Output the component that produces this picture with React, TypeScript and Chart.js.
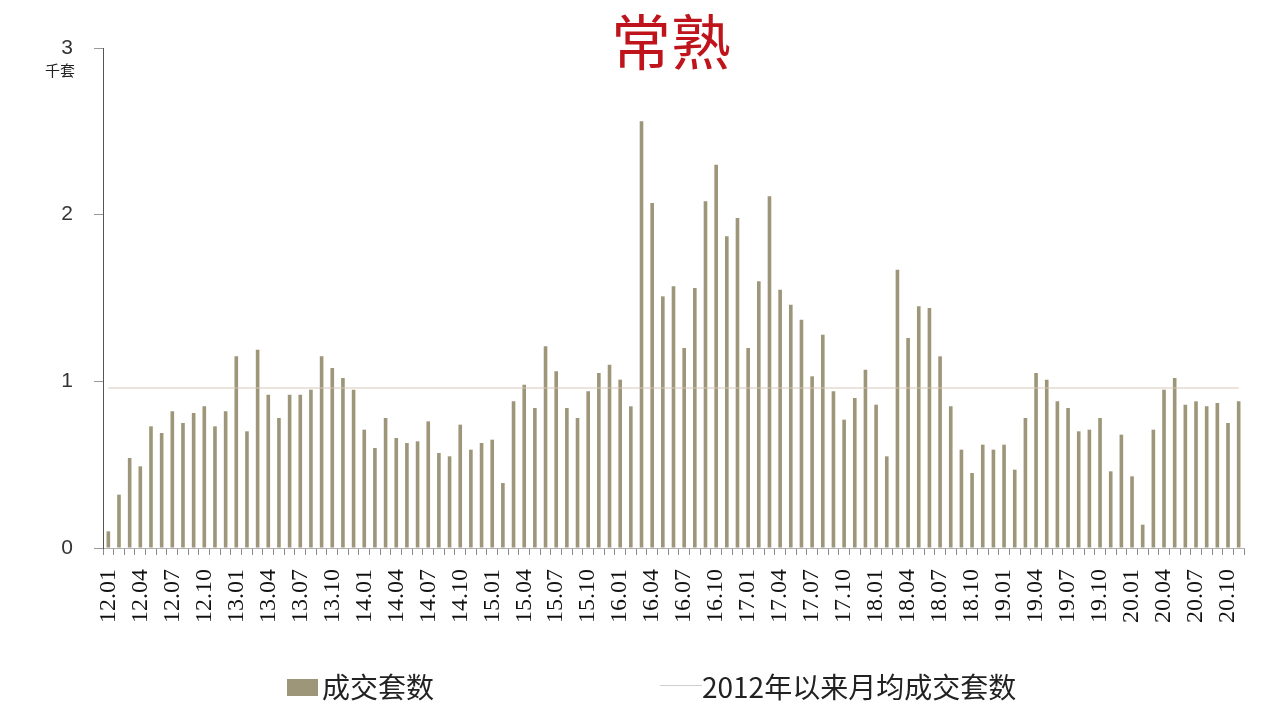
import React, { useEffect, useRef } from "react";
import { Chart, registerables } from "chart.js";

Chart.register(...registerables);

const categories = [
  "12.01", "12.02", "12.03", "12.04", "12.05", "12.06", "12.07", "12.08", "12.09", "12.10", "12.11", "12.12",
  "13.01", "13.02", "13.03", "13.04", "13.05", "13.06", "13.07", "13.08", "13.09", "13.10", "13.11", "13.12",
  "14.01", "14.02", "14.03", "14.04", "14.05", "14.06", "14.07", "14.08", "14.09", "14.10", "14.11", "14.12",
  "15.01", "15.02", "15.03", "15.04", "15.05", "15.06", "15.07", "15.08", "15.09", "15.10", "15.11", "15.12",
  "16.01", "16.02", "16.03", "16.04", "16.05", "16.06", "16.07", "16.08", "16.09", "16.10", "16.11", "16.12",
  "17.01", "17.02", "17.03", "17.04", "17.05", "17.06", "17.07", "17.08", "17.09", "17.10", "17.11", "17.12",
  "18.01", "18.02", "18.03", "18.04", "18.05", "18.06", "18.07", "18.08", "18.09", "18.10", "18.11", "18.12",
  "19.01", "19.02", "19.03", "19.04", "19.05", "19.06", "19.07", "19.08", "19.09", "19.10", "19.11", "19.12",
  "20.01", "20.02", "20.03", "20.04", "20.05", "20.06", "20.07", "20.08", "20.09", "20.10", "20.11",
];

// 成交套数 (千套), by year
const sales2012 = [0.10, 0.32, 0.54, 0.49, 0.73, 0.69, 0.82, 0.75, 0.81, 0.85, 0.73, 0.82];
const sales2013 = [1.15, 0.70, 1.19, 0.92, 0.78, 0.92, 0.92, 0.95, 1.15, 1.08, 1.02, 0.95];
const sales2014 = [0.71, 0.60, 0.78, 0.66, 0.63, 0.64, 0.76, 0.57, 0.55, 0.74, 0.59, 0.63];
const sales2015 = [0.65, 0.39, 0.88, 0.98, 0.84, 1.21, 1.06, 0.84, 0.78, 0.94, 1.05, 1.10];
const sales2016 = [1.01, 0.85, 2.56, 2.07, 1.51, 1.57, 1.20, 1.56, 2.08, 2.30, 1.87, 1.98];
const sales2017 = [1.20, 1.60, 2.11, 1.55, 1.46, 1.37, 1.03, 1.28, 0.94, 0.77, 0.90, 1.07];
const sales2018 = [0.86, 0.55, 1.67, 1.26, 1.45, 1.44, 1.15, 0.85, 0.59, 0.45, 0.62, 0.59];
const sales2019 = [0.62, 0.47, 0.78, 1.05, 1.01, 0.88, 0.84, 0.70, 0.71, 0.78, 0.46, 0.68];
const sales2020 = [0.43, 0.14, 0.71, 0.95, 1.02, 0.86, 0.88, 0.85, 0.87, 0.75, 0.88];

// 2012年以来月均成交套数 (千套)
const monthlyAverage = 0.96;

const yTicks = [0, 1, 2, 3];

const sales = [
  ...sales2012, ...sales2013, ...sales2014, ...sales2015, ...sales2016,
  ...sales2017, ...sales2018, ...sales2019, ...sales2020,
];
const averageLine = categories.map(() => monthlyAverage);

const BAR_COLOR = "#9d9679";
const AVG_COLOR = "#d8c6b8";

export default function App() {
  const canvasRef = useRef<HTMLCanvasElement>(null);

  useEffect(() => {
    const chart = new Chart(canvasRef.current!, {
      type: "bar",
      data: {
        labels: categories,
        datasets: [
          {
            type: "bar",
            label: "成交套数",
            data: sales,
            backgroundColor: BAR_COLOR,
            barPercentage: 0.34,
            categoryPercentage: 1,
            order: 2,
          },
          {
            type: "line",
            label: "2012年以来月均成交套数",
            data: averageLine,
            borderColor: AVG_COLOR,
            borderWidth: 1,
            pointRadius: 0,
            fill: false,
            order: 1,
          } as any,
        ],
      },
      options: {
        responsive: false,
        animation: false,
        layout: { padding: { top: 48, right: 38, left: 0, bottom: 0 } },
        plugins: {
          legend: { display: false },
          title: { display: false },
          tooltip: { enabled: false },
        },
        scales: {
          x: {
            grid: { drawOnChartArea: false, tickLength: 7, color: "#8a8a8a" },
            border: { color: "#b0b0b0" },
            ticks: {
              autoSkip: false,
              minRotation: 90,
              maxRotation: 90,
              padding: 14,
              color: "#111",
              font: { family: "Liberation Serif", size: 24 },
              callback: (_v: any, i: number) => (i % 3 === 0 ? categories[i] : ""),
            },
            afterFit: (s: any) => {
              s.height = 172;
            },
          },
          y: {
            min: 0,
            max: 3,
            afterBuildTicks: (s: any) => {
              s.ticks = yTicks.map((v) => ({ value: v }));
            },
            ticks: {
              padding: 21,
              color: "#333",
              font: { family: "Liberation Sans", size: 21 },
            },
            grid: { drawOnChartArea: false, tickLength: 9, color: "#999" },
            border: { color: "#555" },
            afterFit: (s: any) => {
              s.width = 103;
            },
          },
        },
      },
    });
    return () => chart.destroy();
  }, []);

  const cjk = '"Noto Sans CJK SC", "Noto Sans", sans-serif';

  return (
    <div style={{ position: "absolute", left: 0, top: 0, width: 1282, height: 720, background: "#fff" }}>
      <canvas ref={canvasRef} width={1282} height={720} style={{ position: "absolute", left: 0, top: 0 }} />
      <div
        style={{
          position: "absolute",
          left: 671,
          top: 9,
          transform: "translateX(-50%)",
          fontFamily: cjk,
          fontSize: 60,
          lineHeight: "60px",
          color: "#c0141c",
          whiteSpace: "nowrap",
        }}
      >
        常熟
      </div>
      <div
        style={{
          position: "absolute",
          left: 45,
          top: 62,
          fontFamily: cjk,
          fontSize: 15,
          lineHeight: "16px",
          color: "#222",
          whiteSpace: "nowrap",
        }}
      >
        千套
      </div>
      <div style={{ position: "absolute", left: 287, top: 679, width: 31, height: 17, background: BAR_COLOR }} />
      <div
        style={{
          position: "absolute",
          left: 322,
          top: 672,
          fontFamily: cjk,
          fontSize: 28,
          lineHeight: "28px",
          color: "#222",
          whiteSpace: "nowrap",
        }}
      >
        成交套数
      </div>
      <div style={{ position: "absolute", left: 660, top: 685, width: 42, height: 1, background: "#cfcfcf" }} />
      <div
        style={{
          position: "absolute",
          left: 702,
          top: 672,
          fontFamily: cjk,
          fontSize: 28,
          lineHeight: "28px",
          color: "#222",
          whiteSpace: "nowrap",
        }}
      >
        2012年以来月均成交套数
      </div>
    </div>
  );
}
